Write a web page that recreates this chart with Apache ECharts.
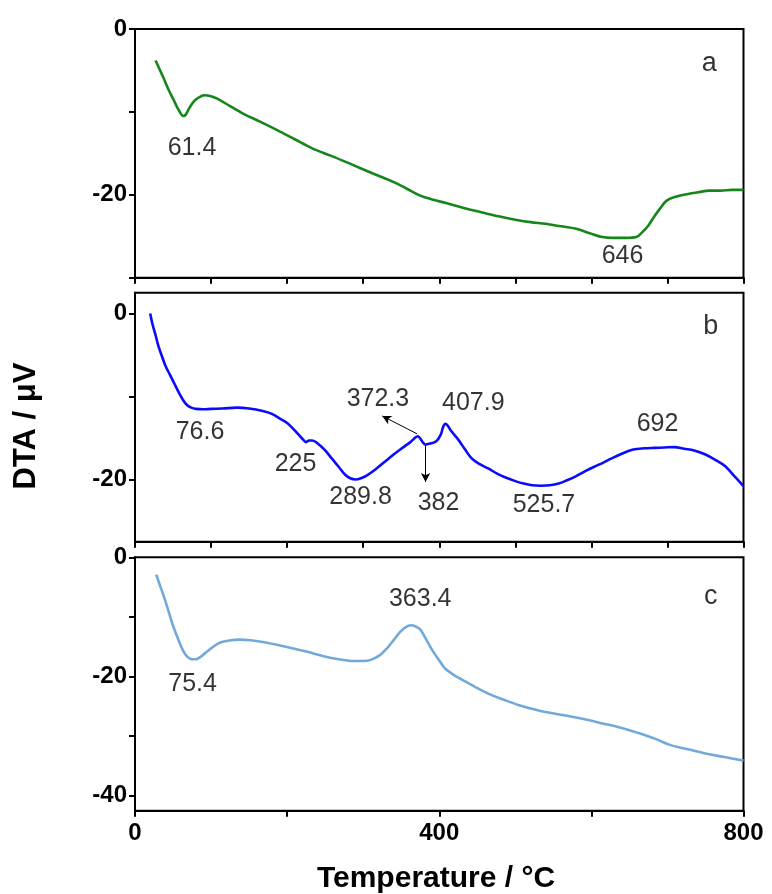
<!DOCTYPE html>
<html>
<head>
<meta charset="utf-8">
<script src="https://cdn.jsdelivr.net/npm/echarts@6/dist/echarts.min.js"></script>
<style>
  html, body { margin: 0; padding: 0; background: #fff; }
  #chart { width: 772px; height: 894px; }
</style>
</head>
<body>
<div id="chart"></div>
<script>
// ---- DTA curves, temperature in °C, signal in µV ----
const tempA = [27, 32, 37, 44, 51, 57, 63.6, 67, 71, 76, 80, 86, 91, 100, 108, 125, 142, 165, 187, 210, 233, 258, 284, 312, 341, 358, 375, 392, 409, 432, 455, 478, 500, 520, 540, 560, 580, 597, 614, 630, 646, 659, 667, 675, 682, 690, 699, 712, 727, 740, 755, 770, 785, 800];
const dtaA = [-3.8, -4.8, -5.8, -7.3, -8.6, -9.7, -10.5, -10.3, -9.6, -8.9, -8.5, -8.15, -8.0, -8.1, -8.4, -9.3, -10.2, -11.2, -12.2, -13.3, -14.4, -15.3, -16.3, -17.4, -18.5, -19.3, -20.1, -20.6, -21.0, -21.6, -22.1, -22.6, -23.0, -23.3, -23.5, -23.8, -24.1, -24.6, -25.1, -25.2, -25.2, -25.1, -24.5, -23.7, -22.7, -21.7, -20.7, -20.2, -19.9, -19.7, -19.5, -19.5, -19.4, -19.4];

const tempB = [20, 23, 27, 31, 36, 40, 46, 52, 58, 63, 68, 74, 80, 90, 100, 115, 134, 150, 168, 180, 191, 200, 208, 216, 222, 225, 229, 233, 238, 242, 250, 259, 268, 276, 283, 290, 297, 305, 316, 328, 340, 350, 362, 372, 376, 379, 382, 387, 396, 402, 405, 408, 411, 416, 425, 434, 442, 452, 465, 476, 488, 500, 511, 522, 534, 545, 557, 568, 580, 592, 603, 615, 626, 640, 655, 670, 683, 696, 709, 722, 735, 750, 764, 776, 787, 794, 800];
const dtaB = [0, -1.3, -2.6, -4.0, -5.3, -6.3, -7.4, -8.5, -9.6, -10.4, -11.0, -11.35, -11.5, -11.55, -11.5, -11.45, -11.35, -11.45, -11.75, -12.1, -12.7, -13.2, -13.9, -14.7, -15.3, -15.5, -15.3, -15.3, -15.5, -15.8, -16.5, -17.5, -18.5, -19.4, -19.85, -20.0, -19.85, -19.5, -18.8, -17.9, -17.0, -16.3, -15.5, -14.8, -15.2, -15.6, -15.8, -15.7, -15.4, -14.6, -13.7, -13.3, -13.5, -14.2, -15.2, -16.4, -17.4, -18.1, -18.7, -19.3, -19.8, -20.2, -20.5, -20.7, -20.75, -20.7, -20.5, -20.1, -19.6, -19.0, -18.5, -18.0, -17.5, -16.9, -16.4, -16.25, -16.2, -16.15, -16.1, -16.3, -16.5, -17.0, -17.7, -18.4, -19.5, -20.2, -20.8];

const tempC = [28, 33, 38, 44, 49, 56, 63, 69, 75, 80, 85, 91, 97, 104, 112, 124, 137, 152, 168, 188, 208, 228, 248, 268, 288, 300, 310, 322, 331, 340, 348, 356, 363, 369, 375, 382, 391, 400, 408, 420, 431, 448, 465, 485, 505, 528, 551, 573, 596, 616, 636, 650, 665, 685, 704, 727, 750, 775, 800];
const dtaC = [-2.9, -4.8, -6.6, -9.0, -11.1, -13.5, -15.6, -16.7, -17.1, -17.1, -16.8, -16.2, -15.6, -14.9, -14.3, -13.95, -13.8, -13.9, -14.2, -14.7, -15.3, -15.9, -16.6, -17.1, -17.4, -17.4, -17.2, -16.4, -15.3, -13.9, -12.6, -11.7, -11.4, -11.6, -12.1, -13.6, -15.6, -17.3, -18.7, -19.8, -20.6, -21.8, -22.9, -23.9, -24.8, -25.6, -26.2, -26.7, -27.3, -27.9, -28.5, -29.0, -29.6, -30.5, -31.5, -32.2, -32.9, -33.5, -34.1];

// ---- peak temperature labels: [temperature, signal, text] ----
const notesA = [[75, -14.4, '61.4'], [641, -27.4, '646']];
const notesB = [[85.5, -14.3, '76.6'], [211, -18.1, '225'], [296.5, -22.1, '289.8'], [319.4, -10.3, '372.3'], [399, -22.9, '382'], [444.8, -10.75, '407.9'], [537.7, -23.1, '525.7'], [687, -13.35, '692']];
const notesC = [[75.7, -21.3, '75.4'], [375, -7.06, '363.4']];

// panel letters: [temperature, signal, letter]
const panelTags = [[755, -4.15, 'a'], [757, -1.6, 'b'], [757, -6.5, 'c']];

// pointer arrows in panel b: [fromT, fromV, toT, toV]
const arrowsB = [[370.8, -14.5, 325, -12.35], [382, -15.9, 382, -20.3]];

// axis ranges and ticks
const xTicksFine = [0, 100, 200, 300, 400, 500, 600, 700, 800];
const xTicksCoarse = [0, 200, 400, 600, 800];
const xLabels = [0, 400, 800];
const yRangeA = [-30, 0], yTicksA = [-30, -20, -10, 0], yLabelsA = [-20, 0];
const yRangeB = [-27.5, 2.5], yTicksB = [-20, -10, 0], yLabelsB = [-20, 0];
const yRangeC = [-42.5, 0], yTicksC = [-40, -30, -20, -10, 0], yLabelsC = [-40, -20, 0];

const colors = ['#16861a', '#0a0aff', '#73a9d9'];

const FONT = '"Liberation Sans", Arial, sans-serif';
const tickLabelStyle = { color: '#000', fontFamily: FONT, fontWeight: 'bold', fontSize: 24 };

const zip = (xs, ys) => xs.map((x, i) => [x, ys[i]]);

const grids = [
  { left: 135, top: 29, width: 608.5, height: 248.7 },
  { left: 135, top: 292.7, width: 608.5, height: 249 },
  { left: 135, top: 557.3, width: 608.5, height: 253.4 }
].map(g => Object.assign({ show: true, borderColor: '#000', borderWidth: 2, backgroundColor: 'transparent' }, g));

function xAxisFor(i, ticks, labels) {
  return {
    type: 'value', gridIndex: i, min: 0, max: 800,
    axisLine: { show: true, onZero: false, lineStyle: { color: '#000', width: 2 } },
    axisTick: { show: true, length: 6, lineStyle: { color: '#000', width: 2 }, customValues: ticks },
    axisLabel: labels ? Object.assign({ show: true, margin: 11, customValues: labels }, tickLabelStyle) : { show: false },
    splitLine: { show: false }
  };
}

function yAxisFor(i, range, ticks, labels) {
  return {
    type: 'value', gridIndex: i, min: range[0], max: range[1],
    axisLine: { show: true, onZero: false, lineStyle: { color: '#000', width: 2 } },
    axisTick: { show: true, length: 6, lineStyle: { color: '#000', width: 2 }, customValues: ticks },
    axisLabel: Object.assign({ show: true, margin: 8, customValues: labels }, tickLabelStyle),
    splitLine: { show: false }
  };
}

function curve(i, xs, ys) {
  return {
    type: 'line', xAxisIndex: i, yAxisIndex: i,
    data: zip(xs, ys), showSymbol: false, smooth: 0.35,
    lineStyle: { color: colors[i], width: 2.6 }, silent: true, z: 3
  };
}

function notes(i, rows, size) {
  return {
    type: 'scatter', xAxisIndex: i, yAxisIndex: i, symbolSize: 0, silent: true, z: 5,
    data: rows,
    label: {
      show: true, position: 'inside', formatter: p => p.data[2],
      color: '#000', textBorderWidth: 0, fontFamily: FONT, fontSize: size
    }
  };
}

const series = [
  curve(0, tempA, dtaA),
  curve(1, tempB, dtaB),
  curve(2, tempC, dtaC),
  notes(0, notesA, 25),
  notes(1, notesB, 25),
  notes(2, notesC, 25),
  notes(0, [panelTags[0]], 27),
  notes(1, [panelTags[1]], 27),
  notes(2, [panelTags[2]], 27),
  {
    type: 'line', xAxisIndex: 1, yAxisIndex: 1, data: [], silent: true,
    markLine: {
      silent: true, symbol: ['none', 'arrow'], symbolSize: [7, 9],
      label: { show: false },
      lineStyle: { color: '#000', width: 1, type: 'solid' },
      data: arrowsB.map(a => [{ coord: [a[0], a[1]] }, { coord: [a[2], a[3]] }])
    }
  }
];

const chart = echarts.init(document.getElementById('chart'), null, { renderer: 'canvas' });
chart.setOption({
  animation: false,
  backgroundColor: '#fff',
  grid: grids,
  xAxis: [xAxisFor(0, xTicksFine, null), xAxisFor(1, xTicksFine, null), xAxisFor(2, xTicksCoarse, xLabels)],
  yAxis: [yAxisFor(0, yRangeA, yTicksA, yLabelsA), yAxisFor(1, yRangeB, yTicksB, yLabelsB), yAxisFor(2, yRangeC, yTicksC, yLabelsC)],
  series: series,
  graphic: [
    {
      type: 'text', x: 436, y: 879,
      style: { text: 'Temperature / °C', fill: '#000', font: 'bold 30px "Liberation Sans", Arial, sans-serif', textAlign: 'center', textVerticalAlign: 'middle' }
    },
    {
      type: 'text', x: 26, y: 426, rotation: Math.PI / 2,
      style: { text: 'DTA / μV', fill: '#000', font: 'bold 31px "Liberation Sans", Arial, sans-serif', textAlign: 'center', textVerticalAlign: 'middle' }
    }
  ]
});
</script>
</body>
</html>
